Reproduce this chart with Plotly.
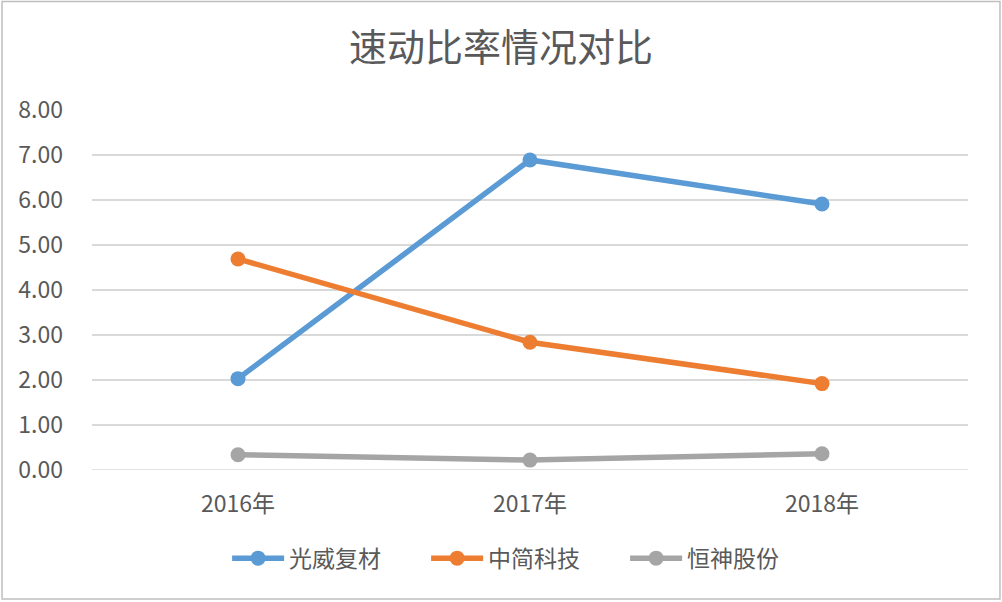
import plotly.graph_objects as go

years = ["2016年", "2017年", "2018年"]
guangwei = [2.03, 6.89, 5.91]
zhongjian = [4.69, 2.84, 1.92]
hengshen = [0.34, 0.22, 0.36]
names = ["光威复材", "中简科技", "恒神股份"]
colors = ["#5B9BD5", "#ED7D31", "#A5A5A5"]
y_ticks = [0, 1, 2, 3, 4, 5, 6, 7, 8]

FONT = "Noto Sans CJK SC, Microsoft YaHei, sans-serif"
TXT = "#595959"

fig = go.Figure()
for name, vals, c in zip(names, [guangwei, zhongjian, hengshen], colors):
    fig.add_trace(go.Scatter(
        x=years, y=vals, name=name, mode="lines+markers",
        line=dict(color=c, width=5.5),
        marker=dict(color=c, size=15),
    ))

fig.update_layout(
    width=1002, height=602,
    margin=dict(l=92, r=34, t=110, b=132),
    paper_bgcolor="white", plot_bgcolor="white",
    font=dict(family=FONT, color=TXT, size=20),
    title=dict(text="速动比率情况对比", x=0.5, xanchor="center", y=0.92, yanchor="middle",
               font=dict(size=38, color=TXT, family=FONT)),
    showlegend=True,
    legend=dict(orientation="h", x=0.495, xanchor="center", y=-0.245, yanchor="middle",
                font=dict(size=23, color=TXT), itemwidth=52, entrywidth=132,
                bgcolor="rgba(0,0,0,0)"),
    xaxis=dict(type="category", range=[-0.5, 2.5], showgrid=False, showline=False,
               zeroline=False, ticks="", tickfont=dict(size=23, color=TXT),
               ticklabelstandoff=18),
    yaxis=dict(range=[0, 8], tickvals=y_ticks, tickformat=".2f", showgrid=True,
               gridcolor="#D9D9D9", gridwidth=1.5, zeroline=False, showline=False,
               ticks="", tickfont=dict(size=23, color=TXT), ticklabelstandoff=28),
)

fig.add_shape(type="line", xref="paper", yref="y", x0=0, x1=1, y0=0, y1=0,
              line=dict(color="#D9D9D9", width=1.5), layer="below")
fig.add_shape(type="rect", xref="paper", yref="paper",
              x0=-0.1027, x1=1.0365, y0=-0.3583, y1=1.3014,
              line=dict(color="#BFBFBF", width=1.5), layer="below")

fig.write_html("out.html")
